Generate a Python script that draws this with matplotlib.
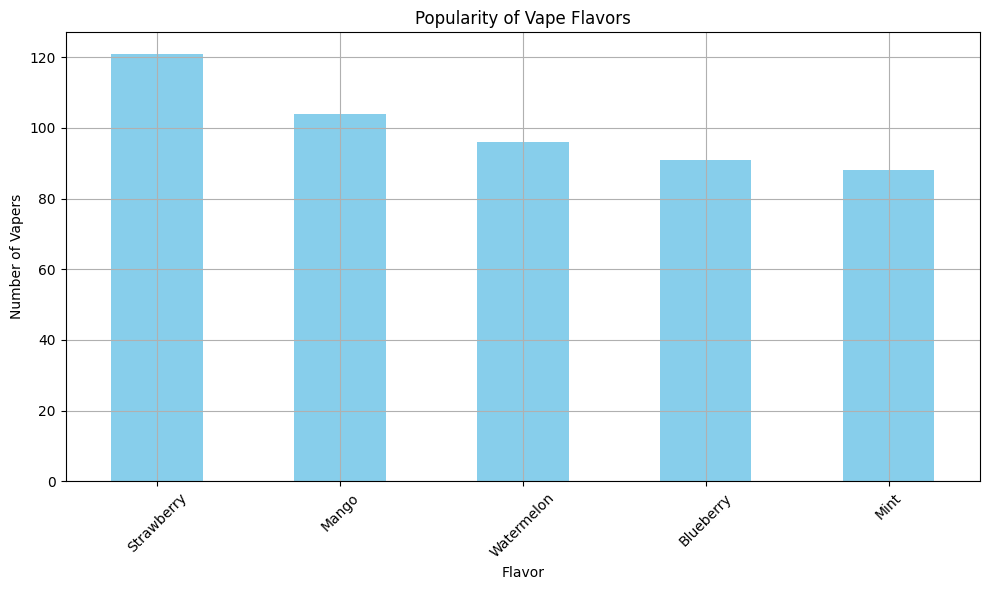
import matplotlib
matplotlib.use("Agg")
import matplotlib.pyplot as plt
import pandas as pd

flavors = ["Strawberry", "Mango", "Watermelon", "Blueberry", "Mint"]
vapers = [121, 104, 96, 91, 88]

counts = pd.Series(vapers, index=flavors)

fig = plt.figure(figsize=(10, 6), dpi=100)
ax = counts.plot(kind="bar", color="skyblue")
ax.set_title("Popularity of Vape Flavors")
ax.set_xlabel("Flavor")
ax.set_ylabel("Number of Vapers")
plt.xticks(rotation=45)
plt.grid(True)
plt.tight_layout()
plt.savefig("out.png", dpi=100, bbox_inches="tight")
